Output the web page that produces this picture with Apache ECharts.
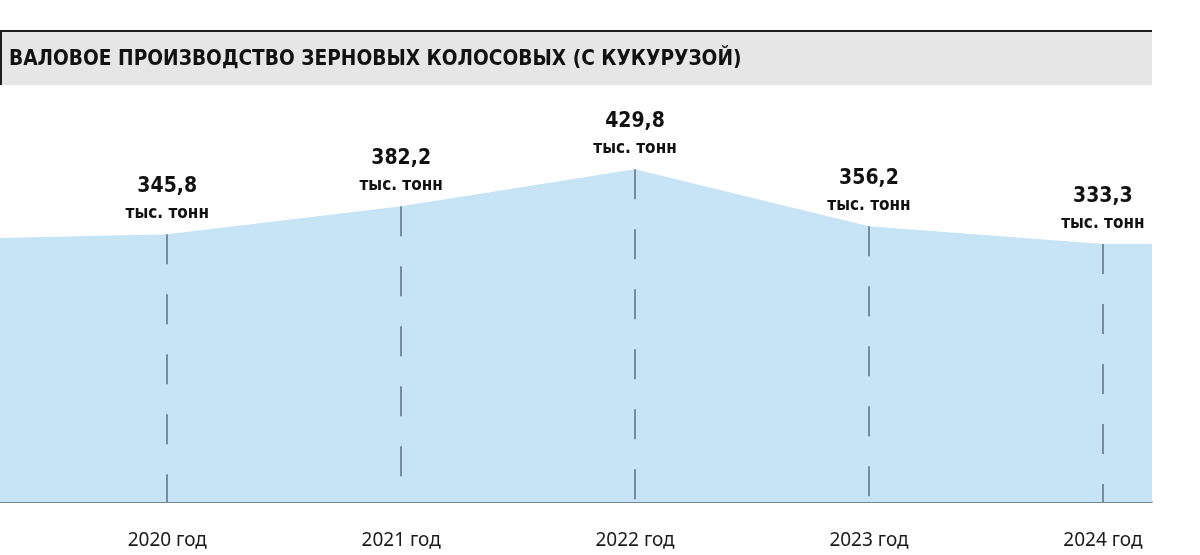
<!DOCTYPE html>
<html>
<head>
<meta charset="utf-8">
<script src="https://cdn.jsdelivr.net/npm/echarts@6/dist/echarts.min.js"></script>
<style>
  html, body { margin: 0; padding: 0; background: #fff; }
  #chart { width: 1200px; height: 555px; }
</style>
</head>
<body>
<div id="chart"></div>
<script>
const titleText = 'ВАЛОВОЕ ПРОИЗВОДСТВО ЗЕРНОВЫХ КОЛОСОВЫХ (С КУКУРУЗОЙ)'
const years = [2020, 2021, 2022, 2023, 2024]
const harvest = [345.8, 382.2, 429.8, 356.2, 333.3]
const unitText = 'тыс. тонн'
// area runs past the first and last year to the chart edges
const xRange = [2019.285, 2024.21]
const edgeValues = [341, 333.3]

const fmt = v => v.toFixed(1).replace('.', ',')

const points = years.map((y, i) => [y, harvest[i]])
const areaData = [[xRange[0], edgeValues[0]], ...points, [xRange[1], edgeValues[1]]]

const chart = echarts.init(document.getElementById('chart'), null, { renderer: 'canvas' })
chart.setOption({
  animation: false,
  backgroundColor: '#fff',
  graphic: [
    { type: 'rect', left: 0, top: 31, shape: { width: 1152, height: 54 }, style: { fill: '#e6e6e7' }, z: -1 },
    { type: 'rect', left: 0, top: 30, shape: { width: 1152, height: 2 }, style: { fill: '#1e1e1e' } },
    { type: 'rect', left: 0, top: 30, shape: { width: 2, height: 55 }, style: { fill: '#1e1e1e' } }
  ],
  title: {
    text: titleText, left: 4, top: 44,
    textStyle: { fontFamily: 'DejaVu Sans Condensed', fontWeight: 'bold', fontSize: 20.7, color: '#111' }
  },
  grid: { left: 0, right: 48, top: 115, bottom: 53 },
  xAxis: {
    type: 'value', min: xRange[0], max: xRange[1],
    splitLine: { show: false },
    axisTick: { show: false },
    axisLine: { show: true, lineStyle: { color: '#4f5d68', width: 1.5 } },
    axisLabel: {
      customValues: years, formatter: v => v + ' год',
      margin: 29, fontFamily: 'Noto Sans', fontSize: 19, color: '#1a1a1a'
    }
  },
  yAxis: { type: 'value', min: 0, max: 500, show: false },
  series: [{
    type: 'line',
    data: areaData,
    symbol: 'none',
    lineStyle: { width: 0 },
    areaStyle: { color: '#c6e4f5', opacity: 1 },
    markLine: {
      silent: true, symbol: 'none',
      label: { show: false },
      lineStyle: { type: [30, 30], color: '#5d6f7c', width: 1.5 },
      data: points.map(p => [{ coord: p }, { coord: [p[0], 0] }])
    }
  }, {
    type: 'scatter',
    data: points,
    symbolSize: 1,
    itemStyle: { color: 'rgba(0,0,0,0)', opacity: 1 },
    label: {
      show: true, position: 'top', distance: 8, color: '#111',
      formatter: p => `{v|${fmt(p.value[1])}}\n{u|${unitText}}`,
      rich: {
        v: { fontFamily: 'DejaVu Sans Condensed', fontWeight: 'bold', fontSize: 21, lineHeight: 30, color: '#111', align: 'center' },
        u: { fontFamily: 'DejaVu Sans Condensed', fontWeight: 'bold', fontSize: 17, lineHeight: 24, color: '#111', align: 'center' }
      }
    }
  }]
})
</script>
</body>
</html>
